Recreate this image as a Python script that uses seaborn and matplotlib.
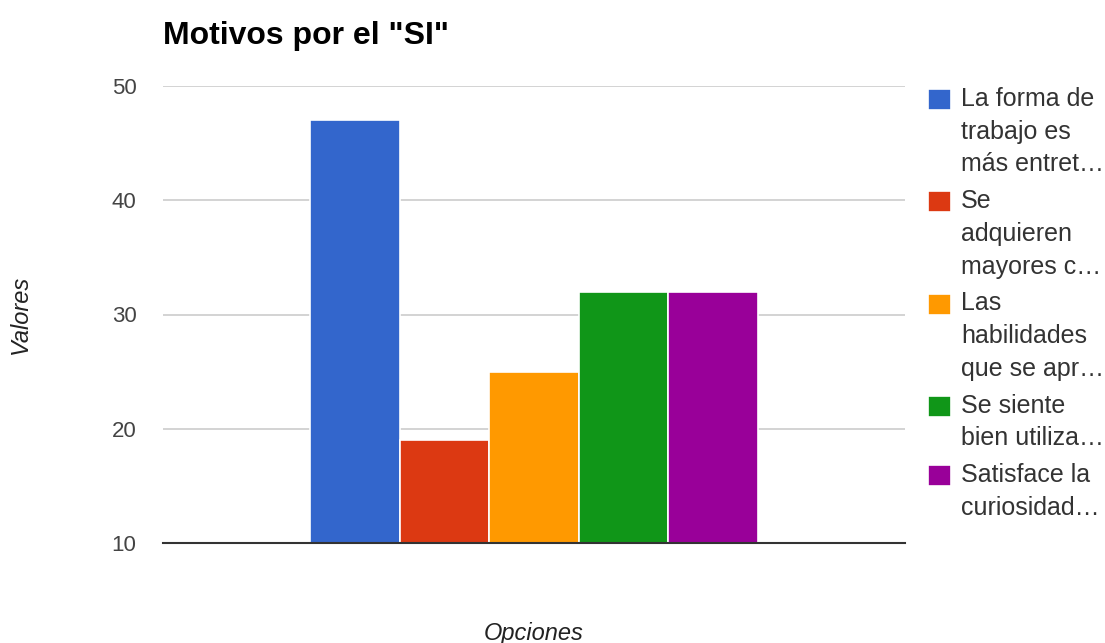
import matplotlib.pyplot as plt
import seaborn as sns
import pandas as pd

# data
motivos = [
    'La forma de\ntrabajo es\nmás entret…',
    'Se\nadquieren\nmayores c…',
    'Las\nhabilidades\nque se apr…',
    'Se siente\nbien utiliza…',
    'Satisface la\ncuriosidad…',
]
valores = [47, 19, 25, 32, 32]
colores = ['#3366cc', '#dc3912', '#ff9900', '#109618', '#990099']
y_ticks = [10, 20, 30, 40, 50]

df = pd.DataFrame({'Opciones': [''] * len(motivos), 'Motivo': motivos, 'Valores': valores})

sns.set_style('white')
plt.rcParams['font.family'] = ['Liberation Sans', 'DejaVu Sans']

fig = plt.figure(figsize=(11.05, 6.43), dpi=100)
ax = fig.add_axes([163 / 1105, 1 - 543 / 643, 742 / 1105, 457 / 643])

sns.barplot(data=df, x='Opciones', y='Valores', hue='Motivo', palette=colores,
            width=0.604, edgecolor='white', linewidth=1.2, saturation=1, ax=ax)

# axes style
ax.set_ylim(y_ticks[0], y_ticks[-1])
ax.set_xlim(-0.5, 0.5)
ax.set_yticks(y_ticks)
ax.set_xticks([])
ax.grid(axis='y', color='#cccccc', linewidth=1.2)
ax.set_axisbelow(True)
for s in ['top', 'right', 'left']:
    ax.spines[s].set_visible(False)
ax.spines['bottom'].set_color('#333333')
ax.spines['bottom'].set_linewidth(1.5)
ax.tick_params(axis='y', length=0, pad=19, labelsize=16, labelcolor='#444444')

ax.set_xlabel('Opciones', fontsize=17, fontstyle='italic', color='#222222')
ax.set_ylabel('Valores', fontsize=17, fontstyle='italic', color='#222222')
ax.xaxis.set_label_coords(0.5, -0.173)
ax.yaxis.set_label_coords(-0.1765, 0.5)

ax.text(0, 1.092, 'Motivos por el "SI"', transform=ax.transAxes, fontsize=23,
        fontweight='bold', va='baseline', ha='left', color='#000000')

# legend on the right, handles aligned with first line
old = ax.get_legend()
handles = old.legend_handles
labels = [t.get_text() for t in old.texts]
old.remove()
leg = fig.legend(handles, labels, loc='upper left', bbox_to_anchor=(928 / 1105, 1 - 87 / 643),
                 frameon=False, fontsize=18, handlelength=0.92, handleheight=0.92,
                 handletextpad=0.4, labelspacing=0.51, borderpad=0, borderaxespad=0)
spacing = 1.46
line_pt = 18 * 0.905 * spacing
for t, h in zip(leg.texts, leg.legend_handles):
    t.set_color('#333333')
    t.set_linespacing(spacing)
    n = t.get_text().count('\n')
    h.set_y(h.get_y() + n * line_pt / 2)

plt.savefig('out.png', dpi=100)
